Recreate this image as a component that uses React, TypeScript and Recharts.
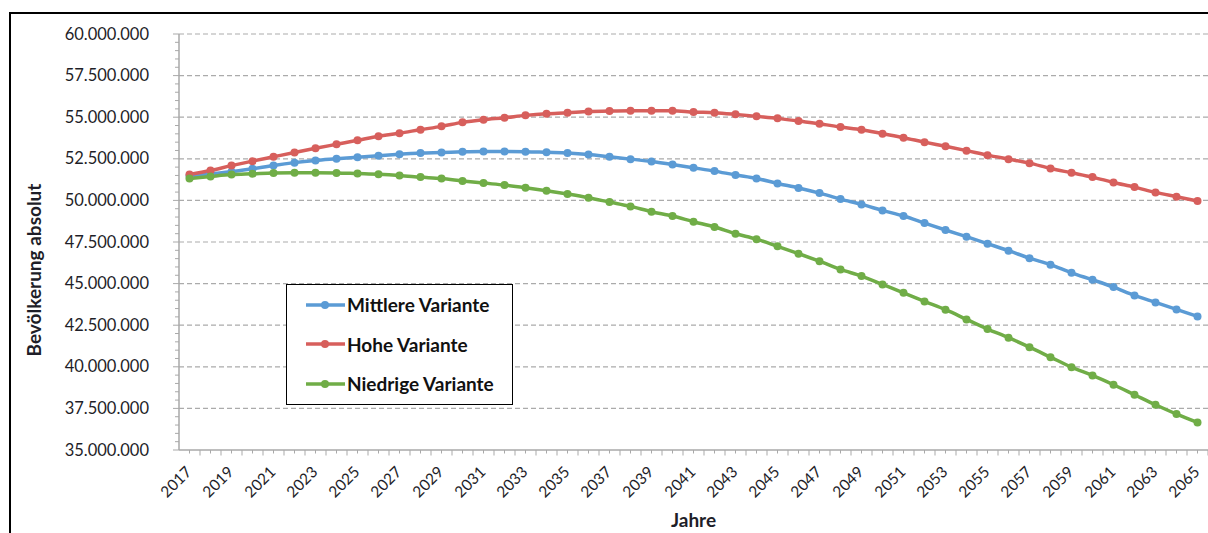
import React from "react";
import { LineChart, Line, XAxis, YAxis, ReferenceLine, Legend, Label } from "recharts";

// Bevölkerungsvorausberechnung 2017–2065, Werte in Mio.
const YEARS = [
  2017, 2018, 2019, 2020, 2021, 2022, 2023, 2024, 2025, 2026, 2027, 2028, 2029, 2030, 2031, 2032, 2033,
  2034, 2035, 2036, 2037, 2038, 2039, 2040, 2041, 2042, 2043, 2044, 2045, 2046, 2047, 2048, 2049, 2050,
  2051, 2052, 2053, 2054, 2055, 2056, 2057, 2058, 2059, 2060, 2061, 2062, 2063, 2064, 2065,
];

const MITTLERE = [
  51.48, 51.6, 51.72, 51.9, 52.1, 52.27, 52.4, 52.5, 52.6, 52.69, 52.77, 52.85, 52.88, 52.92, 52.94, 52.94, 52.93,
  52.89, 52.85, 52.76, 52.62, 52.48, 52.34, 52.16, 51.96, 51.76, 51.53, 51.32, 51.02, 50.75, 50.44, 50.08, 49.76, 49.4,
  49.06, 48.64, 48.22, 47.82, 47.4, 46.98, 46.53, 46.14, 45.65, 45.23, 44.79, 44.29, 43.87, 43.45, 43.03,
];

const HOHE = [
  51.56, 51.8, 52.09, 52.36, 52.62, 52.88, 53.13, 53.37, 53.61, 53.86, 54.04, 54.25, 54.45, 54.69, 54.85, 54.97, 55.11,
  55.21, 55.27, 55.35, 55.37, 55.39, 55.39, 55.39, 55.31, 55.27, 55.17, 55.05, 54.93, 54.77, 54.61, 54.41, 54.25, 54.01,
  53.77, 53.5, 53.25, 52.99, 52.72, 52.48, 52.24, 51.92, 51.66, 51.4, 51.08, 50.8, 50.48, 50.22, 49.96,
];

const NIEDRIGE = [
  51.32, 51.44, 51.55, 51.6, 51.65, 51.66, 51.66, 51.65, 51.61, 51.57, 51.5, 51.4, 51.31, 51.17, 51.04, 50.92, 50.76,
  50.58, 50.38, 50.16, 49.9, 49.64, 49.32, 49.06, 48.72, 48.4, 48.0, 47.67, 47.24, 46.8, 46.35, 45.85, 45.45, 44.95,
  44.45, 43.93, 43.43, 42.85, 42.27, 41.75, 41.18, 40.58, 39.98, 39.48, 38.92, 38.32, 37.72, 37.16, 36.66,
];

const MAJOR_TICKS = [35, 37.5, 40, 42.5, 45, 47.5, 50, 52.5, 55, 57.5, 60];

const SERIES = [
  { key: "mittlere", name: "Mittlere Variante", color: "#5b9bd5", values: MITTLERE },
  { key: "hohe", name: "Hohe Variante", color: "#d75f5c", values: HOHE },
  { key: "niedrige", name: "Niedrige Variante", color: "#70ad47", values: NIEDRIGE },
];

const data = YEARS.map((year, i) => ({
  year,
  mittlere: MITTLERE[i],
  hohe: HOHE[i],
  niedrige: NIEDRIGE[i],
}));

// minor ticks every 0.5 Mio on the value axis
const minorTicks: number[] = [];
for (let v = 35; v <= 60.001; v += 0.5) minorTicks.push(Math.round(v * 10) / 10);

const FONT = "Lato, 'Open Sans', sans-serif";
const AXIS_COLOR = "#a9a9a9";
const GRID_COLOR = "#ababab";
const TEXT_COLOR = "#1e1e28";

const fmt = (v: number) =>
  Math.round(v * 1e6)
    .toString()
    .replace(/\B(?=(\d{3})+(?!\d))/g, ".");

const isMajor = (v: number) => MAJOR_TICKS.some((m) => Math.abs(m - v) < 1e-6);

function YTick(props: any) {
  const { x, y, payload } = props;
  const major = isMajor(payload.value);
  return (
    <g>
      <line x1={x - (major ? 6 : 4)} x2={x} y1={y} y2={y} stroke={AXIS_COLOR} strokeWidth={1} />
      {major && (
        <text x={x - 30} y={y} dy={5.5} textAnchor="end" fontSize={16.5} fontFamily={FONT} fill={TEXT_COLOR}>
          {fmt(payload.value)}
        </text>
      )}
    </g>
  );
}

function XTick(props: any) {
  const { x, y, payload, index } = props;
  const half = 10.5;
  const showLabel = index % 2 === 0;
  return (
    <g>
      <line x1={x} x2={x} y1={y} y2={y + 3.5} stroke={AXIS_COLOR} strokeWidth={1} />
      <line x1={x + half} x2={x + half} y1={y} y2={y + 5.5} stroke={AXIS_COLOR} strokeWidth={1} />
      {showLabel && (
        <text
          x={x + 3}
          y={y + 23}
          textAnchor="end"
          fontSize={15.5}
          fontFamily={FONT}
          fill={TEXT_COLOR}
          transform={`rotate(-45, ${x + 3}, ${y + 23})`}
        >
          {payload.value}
        </text>
      )}
    </g>
  );
}

function LegendBox(props: any) {
  const payload = [...(props.payload || [])].sort(
    (a: any, b: any) =>
      SERIES.findIndex((s) => s.name === a.value) - SERIES.findIndex((s) => s.name === b.value)
  );
  return (
    <div
      style={{
        boxSizing: "border-box",
        width: 227,
        height: 121,
        border: "1.5px solid #000",
        background: "#fff",
        fontFamily: FONT,
      }}
    >
      {payload.map((entry: any) => (
        <div key={entry.value} style={{ height: 39.5, display: "flex", alignItems: "center" }}>
          <svg width={40} height={12} style={{ marginLeft: 18, flex: "none" }}>
            <line x1={1} x2={40} y1={6} y2={6} stroke={entry.color} strokeWidth={3.5} />
            <circle cx={20} cy={6} r={4} fill={entry.color} />
          </svg>
          <span style={{ fontWeight: 700, fontSize: 19, color: "#111", marginLeft: 2, whiteSpace: "nowrap" }}>
            {entry.value}
          </span>
        </div>
      ))}
    </div>
  );
}

export default function App() {
  return (
    <div style={{ position: "absolute", left: 0, top: 0, width: 1208, height: 533, background: "#fff", overflow: "hidden" }}>
      <div
        style={{
          position: "absolute",
          left: 9,
          top: 12,
          width: 1220,
          height: 540,
          borderTop: "2px solid #000",
          borderLeft: "2px solid #000",
        }}
      />
      <div style={{ position: "absolute", left: 0, top: 0 }}>
        <LineChart width={1208} height={533} data={data} margin={{ top: 34, right: 0, left: 0, bottom: 0 }}>
          <XAxis
            dataKey="year"
            interval={0}
            height={83}
            tickSize={0}
            tickMargin={0}
            tickLine={false}
            padding={{ left: 10.5, right: 10.5 }}
            axisLine={{ stroke: AXIS_COLOR, strokeWidth: 1.5 }}
            tick={<XTick />}
          >
            <Label
              content={(p: any) => {
                const vb = p.viewBox;
                return (
                  <text
                    x={vb.x + vb.width / 2}
                    y={vb.y + 77}
                    textAnchor="middle"
                    fontSize={19}
                    fontWeight={700}
                    fontFamily={FONT}
                    fill={TEXT_COLOR}
                  >
                    Jahre
                  </text>
                );
              }}
            />
          </XAxis>
          <YAxis
            type="number"
            domain={[35, 60]}
            ticks={minorTicks}
            interval={0}
            width={179}
            tickSize={0}
            tickMargin={0}
            tickLine={false}
            axisLine={{ stroke: AXIS_COLOR, strokeWidth: 1.5 }}
            tick={<YTick />}
          >
            <Label
              content={(p: any) => {
                const vb = p.viewBox;
                const cx = vb.x + 33;
                const cy = vb.y + 236;
                return (
                  <text
                    x={cx}
                    y={cy}
                    textAnchor="middle"
                    dominantBaseline="central"
                    fontSize={19}
                    fontWeight={700}
                    fontFamily={FONT}
                    fill={TEXT_COLOR}
                    transform={`rotate(-90, ${cx}, ${cy})`}
                  >
                    Bevölkerung absolut
                  </text>
                );
              }}
            />
          </YAxis>
          {MAJOR_TICKS.filter((t) => t > 35).map((t) => (
            <ReferenceLine key={t} y={t} stroke={GRID_COLOR} strokeDasharray="5 3" strokeWidth={1.2} ifOverflow="extendDomain" />
          ))}
          {SERIES.map((s) => (
            <Line
              key={s.key}
              dataKey={s.key}
              name={s.name}
              type="monotone"
              stroke={s.color}
              strokeWidth={3.5}
              dot={{ r: 4, fill: s.color, stroke: s.color, strokeWidth: 0 }}
              activeDot={false}
              isAnimationActive={false}
            />
          ))}
          <Legend
            layout="vertical"
            align="center"
            verticalAlign="middle"
            itemSorter={null}
            content={<LegendBox />}
            wrapperStyle={{ position: "absolute", left: 286, top: 284, width: 227, height: 121 }}
          />
        </LineChart>
      </div>
    </div>
  );
}
